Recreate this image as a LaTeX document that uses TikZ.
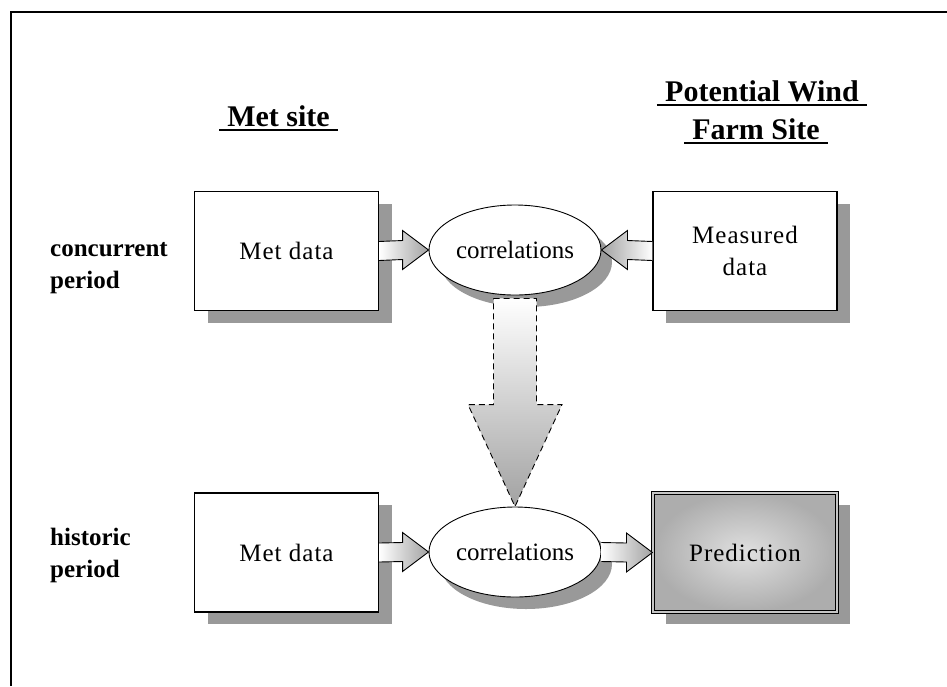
\documentclass[tikz,border=0pt]{standalone}
\usepackage{fontspec}
\setmainfont{Liberation Serif}
\newfontfamily\boxfont[LetterSpace=4]{Liberation Serif}
\usetikzlibrary{shapes.geometric,shadows,calc}
\definecolor{shadowgray}{HTML}{999999}
\definecolor{tipgray}{HTML}{A2A2A2}
\definecolor{predlight}{HTML}{E0E0E0}
\definecolor{preddark}{HTML}{ADADAD}
\begin{document}
\begin{tikzpicture}[x=1pt,y=-1pt,
  boxshadow/.style={drop shadow={shadow xshift=13pt,shadow yshift=-12pt,fill=shadowgray,opacity=1}},
  databox/.style={draw, line width=1.2pt, fill=white, minimum width=184pt,
    minimum height=119pt, inner sep=0pt, align=center,
    font=\boxfont\fontsize{25}{32}\selectfont, boxshadow},
  corr/.style={ellipse, draw, line width=0.9pt, fill=white, minimum width=172pt,
    minimum height=90pt, inner sep=0pt, font=\fontsize{25}{32}\selectfont,
    drop shadow={shadow xshift=11pt,shadow yshift=-12pt,fill=shadowgray,opacity=1}},
  predbox/.style={databox, fill=none, shading=radial, inner color=predlight,
    outer color=preddark, double=gray!45, double distance=2.2pt, line width=1.1pt},
  heading/.style={font=\fontsize{30}{36}\selectfont\bfseries, inner xsep=8pt, inner ysep=0pt},
  ruleline/.style={line width=2.6pt},
  rowlabel/.style={font=\fontsize{25}{32}\selectfont\bfseries, inner sep=0pt},
  blockarrow/.style={line width=0.9pt, line join=miter},
  bigarrow/.style={line width=0.9pt, dash pattern=on 6pt off 4pt, top color=white, bottom color=tipgray}
]
\useasboundingbox (0,0) rectangle (947,686);

% frame
\draw[line width=1.2pt] (11,686) -- (11,12) -- (947,12);

% column headings
\node[heading, anchor=base] (metsite) at (278.5,126) {Met site};
\draw[ruleline] ($(metsite.base west)+(0,4)$) -- ($(metsite.base east)+(0,4)$);
\node[heading, anchor=base] (potwind) at (762,101) {Potential Wind};
\draw[ruleline] ($(potwind.base west)+(0,4)$) -- ($(potwind.base east)+(0,4)$);
\node[heading, anchor=base] (farmsite) at (756,139) {Farm Site};
\draw[ruleline] ($(farmsite.base west)+(0,4)$) -- ($(farmsite.base east)+(0,4)$);

% row labels
\node[rowlabel, anchor=base west] (concurrent) at (50,256) {\parbox[t]{150pt}{concurrent\\period}};
\node[rowlabel, anchor=base west] (historic) at (50,545) {\parbox[t]{150pt}{historic\\period}};

% concurrent period row
\node[databox] (metA) at (286.5,251) {Met data};
\node[corr] (corrA) at (515,250) {correlations};
\node[databox] (measured) at (745,251) {Measured\\data};

% historic period row
\node[databox] (metB) at (286.5,552.5) {Met data};
\node[corr] (corrB) at (515,552) {correlations};
\node[predbox] (pred) at (745,552.5) {Prediction};

% block arrows, concurrent row
\shadedraw[blockarrow, left color=white, right color=tipgray]
  ($(metA.east)+(0,-9.5)$) -- ($(corrA.west)+(-26,-9.5)$) -- ($(corrA.west)+(-26,-19.5)$)
  -- (corrA.west) -- ($(corrA.west)+(-26,19.5)$) -- ($(corrA.west)+(-26,9.5)$)
  -- ($(metA.east)+(0,9.5)$);
\shadedraw[blockarrow, right color=white, left color=tipgray]
  ($(measured.west)+(0,-9.5)$) -- ($(corrA.east)+(26,-9.5)$) -- ($(corrA.east)+(26,-19.5)$)
  -- (corrA.east) -- ($(corrA.east)+(26,19.5)$) -- ($(corrA.east)+(26,9.5)$)
  -- ($(measured.west)+(0,9.5)$);

% block arrows, historic row
\shadedraw[blockarrow, left color=white, right color=tipgray]
  ($(metB.east)+(0,-9.5)$) -- ($(corrB.west)+(-26,-9.5)$) -- ($(corrB.west)+(-26,-19.5)$)
  -- (corrB.west) -- ($(corrB.west)+(-26,19.5)$) -- ($(corrB.west)+(-26,9.5)$)
  -- ($(metB.east)+(0,9.5)$);
\shadedraw[blockarrow, left color=white, right color=tipgray]
  ($(corrB.east)+(0,-9.5)$) -- ($(pred.west)+(-26,-9.5)$) -- ($(pred.west)+(-26,-19.5)$)
  -- (pred.west) -- ($(pred.west)+(-26,19.5)$) -- ($(pred.west)+(-26,9.5)$)
  -- ($(corrB.east)+(0,9.5)$);

% dashed arrow from concurrent correlations down to historic correlations
\shadedraw[bigarrow]
  ($(corrA.south)+(-21.5,3)$) -- ($(corrA.south)+(21.5,3)$)
  -- ($(corrB.north)+(21.5,-102)$) -- ($(corrB.north)+(47,-102)$)
  -- (corrB.north)
  -- ($(corrB.north)+(-47,-102)$) -- ($(corrB.north)+(-21.5,-102)$) -- cycle;
\end{tikzpicture}
\end{document}
